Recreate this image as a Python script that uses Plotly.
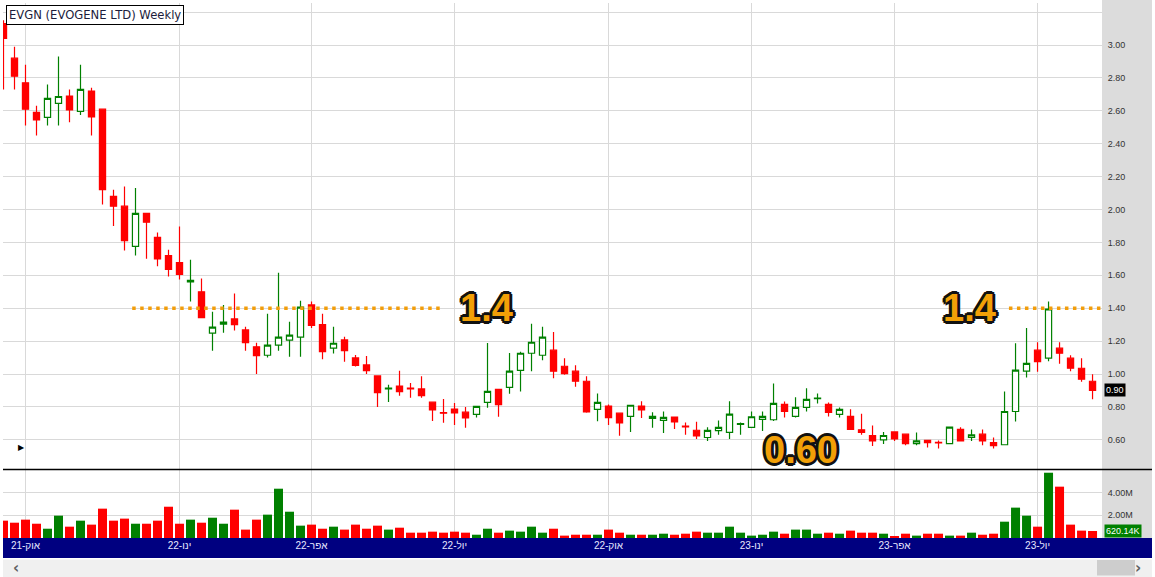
import pandas as pd
import plotly.graph_objects as go

# ---------------- data ----------------
weeks = pd.date_range("2021-09-13", periods=100, freq="7D").strftime("%Y-%m-%d").tolist()

opens = [3.13, 2.92, 2.77, 2.59, 2.56, 2.645, 2.69, 2.596, 2.72, 2.61,
         2.08, 2.02, 1.776, 1.976, 1.83, 1.72, 1.677, 1.56, 1.50, 1.248,
         1.303, 1.335, 1.268, 1.165, 1.114, 1.175, 1.206, 1.224, 1.42, 1.30,
         1.157, 1.207, 1.098, 1.055, 0.988, 0.91, 0.927, 0.915, 0.909, 0.829,
         0.766, 0.787, 0.768, 0.754, 0.827, 0.907, 0.919, 1.022, 1.126, 1.114,
         1.145, 1.047, 1.017, 0.956, 0.785, 0.805, 0.762, 0.742, 0.805, 0.730,
         0.718, 0.738, 0.683, 0.658, 0.614, 0.656, 0.645, 0.694, 0.675, 0.724,
         0.722, 0.815, 0.742, 0.797, 0.850, 0.815, 0.754, 0.742, 0.661, 0.626,
         0.599, 0.648, 0.634, 0.577, 0.597, 0.585, 0.577, 0.663, 0.614, 0.634,
         0.583, 0.570, 0.772, 1.017, 1.145, 1.096, 1.157, 1.096, 1.035, 0.956]
highs = [3.15, 2.99, 2.88, 2.63, 2.76, 2.93, 2.73, 2.88, 2.74, 2.61,
         2.12, 2.14, 2.13, 1.976, 1.86, 1.756, 1.896, 1.695, 1.58, 1.378,
         1.42, 1.49, 1.287, 1.19, 1.366, 1.616, 1.317, 1.445, 1.44, 1.366,
         1.287, 1.226, 1.116, 1.11, 0.988, 0.935, 1.02, 0.945, 0.986, 0.829,
         0.848, 0.823, 0.80, 0.805, 1.189, 0.907, 1.128, 1.136, 1.305, 1.287,
         1.256, 1.096, 1.053, 0.986, 0.882, 0.815, 0.765, 0.812, 0.835, 0.768,
         0.772, 0.742, 0.705, 0.709, 0.677, 0.718, 0.835, 0.705, 0.772, 0.772,
         0.943, 0.833, 0.858, 0.913, 0.882, 0.827, 0.797, 0.785, 0.759, 0.687,
         0.648, 0.650, 0.636, 0.644, 0.600, 0.595, 0.681, 0.677, 0.663, 0.663,
         0.614, 0.894, 1.187, 1.279, 1.193, 1.44, 1.193, 1.114, 1.096, 0.998]
lows = [2.73, 2.73, 2.51, 2.45, 2.51, 2.51, 2.53, 2.575, 2.45, 2.03,
        1.90, 1.75, 1.72, 1.70, 1.655, 1.593, 1.575, 1.44, 1.34, 1.142,
        1.25, 1.264, 1.142, 1.00, 1.10, 1.142, 1.105, 1.105, 1.28, 1.09,
        1.124, 1.075, 1.045, 1.00, 0.80, 0.83, 0.868, 0.856, 0.856, 0.715,
        0.703, 0.69, 0.673, 0.735, 0.795, 0.74, 0.88, 0.894, 1.017, 1.084,
        0.974, 0.996, 0.923, 0.764, 0.713, 0.69, 0.624, 0.648, 0.733, 0.673,
        0.642, 0.666, 0.63, 0.605, 0.593, 0.63, 0.605, 0.63, 0.673, 0.654,
        0.715, 0.736, 0.736, 0.772, 0.821, 0.742, 0.736, 0.66, 0.63, 0.563,
        0.575, 0.593, 0.567, 0.567, 0.553, 0.547, 0.575, 0.593, 0.593, 0.567,
        0.547, 0.568, 0.711, 0.978, 1.014, 1.077, 1.063, 1.017, 0.953, 0.846]
closes = [3.04, 2.81, 2.61, 2.545, 2.675, 2.687, 2.605, 2.73, 2.563, 2.12,
          2.02, 1.81, 1.976, 1.923, 1.70, 1.636, 1.606, 1.57, 1.343, 1.285,
          1.315, 1.30, 1.191, 1.112, 1.175, 1.224, 1.236, 1.407, 1.295, 1.136,
          1.187, 1.142, 1.053, 1.02, 0.886, 0.915, 0.892, 0.91, 0.868, 0.782,
          0.762, 0.764, 0.733, 0.803, 0.894, 0.813, 1.017, 1.126, 1.193, 1.224,
          1.017, 1.002, 0.956, 0.770, 0.827, 0.735, 0.703, 0.81, 0.782, 0.742,
          0.736, 0.709, 0.679, 0.623, 0.657, 0.676, 0.756, 0.698, 0.740, 0.742,
          0.821, 0.772, 0.797, 0.846, 0.854, 0.767, 0.785, 0.663, 0.645, 0.593,
          0.626, 0.605, 0.577, 0.593, 0.583, 0.581, 0.677, 0.593, 0.630, 0.593,
          0.564, 0.772, 1.023, 1.065, 1.075, 1.395, 1.126, 1.035, 0.968, 0.90]
volumes_m = [1.53, 1.35, 1.62, 1.26, 0.82, 1.97, 1.00, 1.53, 1.18, 2.59,
             1.53, 1.71, 1.26, 1.26, 1.53, 2.76, 1.26, 1.62, 1.35, 1.79,
             1.26, 2.50, 0.74, 1.62, 2.06, 4.35, 2.32, 1.09, 1.18, 0.82,
             1.00, 0.74, 1.18, 0.82, 1.09, 0.74, 0.91, 0.47, 0.47, 0.56,
             0.47, 0.56, 0.47, 0.29, 0.82, 0.47, 0.65, 0.56, 1.00, 0.47,
             0.82, 0.21, 0.29, 0.29, 0.29, 0.74, 0.47, 0.29, 0.29, 0.29,
             0.38, 0.29, 0.38, 0.56, 0.47, 0.47, 1.00, 0.47, 0.21, 0.29,
             0.56, 0.38, 0.74, 0.74, 0.38, 0.47, 0.38, 0.65, 0.47, 0.47,
             0.38, 0.12, 0.38, 0.21, 0.38, 0.38, 0.21, 0.21, 0.47, 0.29,
             0.38, 1.44, 2.68, 1.97, 1.00, 5.76, 4.53, 1.18, 0.65, 0.62]

tick_weeks = ["2021-09-27", "2022-01-03", "2022-03-28", "2022-06-27",
              "2022-10-03", "2023-01-02", "2023-04-03", "2023-07-03"]
tick_labels = ["אוק-21", "ינו-22", "אפר-22", "יול-22",
               "אוק-22", "ינו-23", "אפר-23", "יול-23"]

price_ticks = [0.6, 0.8, 1.0, 1.2, 1.4, 1.6, 1.8, 2.0, 2.2, 2.4, 2.6, 2.8, 3.0, 3.2]
price_tick_text = ["0.60", "0.80", "1.00", "1.20", "1.40", "1.60", "1.80", "2.00",
                   "2.20", "2.40", "2.60", "2.80", "3.00", ""]
vol_ticks = [2, 4]
vol_tick_text = ["2.00M", "4.00M"]

title_text = "EVGN (EVOGENE LTD) Weekly"
last_price_label = "0.90"
last_volume_label = "620.14K"
resistance = 1.40
level_spans = [(11.7, 39.7), (91.4, 99.9)]   # week-index spans of the dotted 1.40 line
level_labels = [("1.4", 43.9, 1.40), ("1.4", 87.8, 1.40), ("0.60", 72.5, 0.538)]

# ---------------- geometry helpers ----------------
W, H = 1155, 577
ML, MR, MT, MB = 3, 53, 3, 39
PW, PH = W - ML - MR, H - MT - MB


def pyp(pix):
    return (H - MB - pix) / PH


def pxp(pix):
    return (pix - ML) / PW


RED, GREEN = "#ff0000", "#008000"
vol_colors = [GREEN if c >= o else RED for o, c in zip(opens, closes)]

fig = go.Figure()
fig.add_trace(go.Candlestick(
    x=weeks, open=opens, high=highs, low=lows, close=closes,
    increasing=dict(line=dict(color=GREEN, width=1.2), fillcolor="white"),
    decreasing=dict(line=dict(color=RED, width=1.2), fillcolor=RED),
    whiskerwidth=0, xaxis="x", yaxis="y", showlegend=False))
fig.add_trace(go.Bar(
    x=weeks, y=volumes_m, marker=dict(color=vol_colors, line=dict(width=0)),
    xaxis="x", yaxis="y2", showlegend=False))

grid = "#d9d9d9"
axis_font = dict(family="Liberation Sans, Arial, sans-serif", size=9, color="#333333")

fig.update_layout(
    width=W, height=H,
    margin=dict(l=ML, r=MR, t=MT, b=MB, pad=0),
    paper_bgcolor="white", plot_bgcolor="white",
    boxgap=0.2, bargap=0.18,
    showlegend=False,
    xaxis=dict(type="category", range=[-0.045, 99.86], anchor="y2",
               tickmode="array", tickvals=tick_weeks, ticktext=tick_labels,
               showgrid=True, gridcolor=grid, gridwidth=1, ticks="",
               showline=False, zeroline=False,
               tickfont=dict(family="Liberation Sans, Arial, sans-serif", size=10, color="#e8e8ff"),
               rangeslider=dict(visible=False), fixedrange=True),
    yaxis=dict(domain=[pyp(469), 1], range=[0.4225, 3.2553], side="right", anchor="x",
               tickmode="array", tickvals=price_ticks, ticktext=price_tick_text,
               showgrid=True, gridcolor=grid, gridwidth=1, ticks="outside", ticklen=3,
               tickcolor="rgba(0,0,0,0)", zeroline=False, showline=False,
               tickfont=axis_font, fixedrange=True),
    yaxis2=dict(domain=[0, pyp(470)], range=[0, 6.0], side="right", anchor="x",
                tickmode="array", tickvals=vol_ticks, ticktext=vol_tick_text,
                showgrid=True, gridcolor=grid, gridwidth=1, ticks="outside", ticklen=3,
                tickcolor="rgba(0,0,0,0)", zeroline=False, showline=False,
                tickfont=axis_font, fixedrange=True),
)

shapes = [
    # right axis strip
    dict(type="rect", xref="paper", yref="paper", x0=1, x1=pxp(1152), y0=0, y1=pyp(0),
         fillcolor="#dcdcdc", line=dict(width=0), layer="below"),
    # date band
    dict(type="rect", xref="paper", yref="paper", x0=0, x1=pxp(1152), y0=pyp(558), y1=0,
         fillcolor="#000080", line=dict(width=0), layer="below"),
    # scrollbar
    dict(type="rect", xref="paper", yref="paper", x0=0, x1=pxp(1152), y0=pyp(577), y1=pyp(559.5),
         fillcolor="#f0f0f0", line=dict(width=0), layer="below"),
    dict(type="rect", xref="paper", yref="paper", x0=pxp(1097), x1=pxp(1135), y0=pyp(575.5), y1=pyp(560),
         fillcolor="#cdcdcd", line=dict(width=0), layer="below"),
    # pane separator
    dict(type="line", xref="paper", yref="paper", x0=0, x1=pxp(1152), y0=pyp(469.5), y1=pyp(469.5),
         line=dict(color="black", width=1.3), layer="above"),
]
for x0, x1 in level_spans:
    shapes.append(dict(type="line", xref="x", yref="y", x0=x0, x1=x1, y0=resistance, y1=resistance,
                       line=dict(color="#f29d0b", width=3.5, dash="3.5px,4.5px"), layer="above"))
fig.update_layout(shapes=shapes)

outline = ", ".join(f"{dx}px {dy}px 0 #111" for dx, dy in
                    [(-2, -2), (2, -2), (-2, 2), (2, 2), (0, 2), (0, -2), (2, 0), (-2, 0),
                     (-3, 0), (3, 0), (0, 3), (0, -3)])
annotations = [
    dict(text=title_text, xref="paper", yref="paper", x=pxp(5.5), y=pyp(5.5),
         xanchor="left", yanchor="top", showarrow=False, bgcolor="white",
         bordercolor="black", borderwidth=1, borderpad=2,
         font=dict(family="DejaVu Sans, Verdana, sans-serif", size=11.6, color="#1c1c3c")),
    dict(text=last_price_label, xref="paper", yref="y", x=1, y=closes[-1], xshift=2,
         xanchor="left", yanchor="middle", showarrow=False, bgcolor="black", borderpad=1,
         font=dict(family="Liberation Sans, Arial, sans-serif", size=9, color="white")),
    dict(text=last_volume_label, xref="paper", yref="y2", x=1, y=volumes_m[-1], xshift=2,
         xanchor="left", yanchor="middle", showarrow=False, bgcolor=GREEN, borderpad=1,
         font=dict(family="Liberation Sans, Arial, sans-serif", size=9, color="white")),
    dict(text="▶", xref="paper", yref="paper", x=pxp(15.5), y=pyp(454), showarrow=False,
         font=dict(size=8, color="black")),
    dict(text="‹", xref="paper", yref="paper", x=pxp(11), y=pyp(568), showarrow=False,
         yanchor="middle", font=dict(family="DejaVu Sans", size=15, color="#606060", weight="bold")),
    dict(text="›", xref="paper", yref="paper", x=pxp(1143), y=pyp(568), showarrow=False,
         yanchor="middle", font=dict(family="DejaVu Sans", size=15, color="#606060", weight="bold")),
]
for txt, xi, yv in level_labels:
    annotations.append(dict(text=txt, xref="x", yref="y", x=xi, y=yv, showarrow=False,
                            xanchor="center", yanchor="middle",
                            font=dict(family="Liberation Sans, Arial, sans-serif", size=38,
                                      color="#f2a007", weight="bold", shadow=outline)))
fig.update_layout(annotations=annotations)

fig.write_html("out.html", config={"displayModeBar": False},
               post_script="document.body.style.margin='0';")
